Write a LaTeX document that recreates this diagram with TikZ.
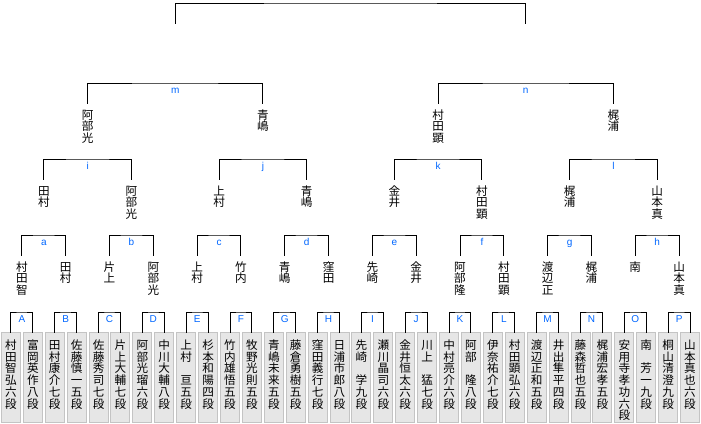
\documentclass[tikz,border=0pt]{standalone}
\usepackage{fontspec}
\setsansfont{Liberation Sans}
\newfontfamily\jpfont{Noto Sans CJK JP}
\usepackage{xcolor}
\definecolor{roundblue}{HTML}{0066FF}
\definecolor{slotgray}{HTML}{E6E6E6}
\definecolor{slotedge}{HTML}{C4C4C4}
\makeatletter
\newcommand\tate[1]{\vtop{\baselineskip=11.7pt\lineskiplimit=-20pt\expandafter\tate@i#1\relax}}
\def\tate@i#1{\ifx#1\relax\else\hbox to 12pt{\hss#1\hss}\expandafter\tate@i\fi}
\makeatother
\def\pitch{21.906}

\begin{document}
\begin{tikzpicture}[x=1pt,y=-1pt,
  bracket/.style={line width=1pt,line cap=rect},
  player/.style={draw=slotedge,fill=slotgray,line width=1pt,anchor=north,inner sep=0pt,
    minimum width=19pt,text height=17pt,text depth=73pt,font=\jpfont\fontsize{11.6}{11.7}\selectfont},
  winner/.style={anchor=north,inner sep=0pt,text height=16pt,font=\jpfont\fontsize{11.6}{11.7}\selectfont},
  matchlab/.style={anchor=north,inner sep=0pt,text height=10.5pt,text depth=0pt,text=roundblue,
    font=\sffamily\fontsize{10}{10}\selectfont}]
\useasboundingbox (0,0) rectangle (701,423);
% 32 players at the bottom, rounds go up to the final
\foreach \nm [count=\k] in {村田智弘六段,富岡英作八段,田村康介七段,佐藤慎一五段,佐藤秀司七段,片上大輔七段,阿部光瑠六段,中川大輔八段,
  上村　亘五段,杉本和陽四段,竹内雄悟五段,牧野光則五段,青嶋未来五段,藤倉勇樹五段,窪田義行七段,日浦市郎八段,
  先崎　学九段,瀬川晶司六段,金井恒太六段,川上　猛七段,中村亮介六段,阿部　隆八段,伊奈祐介七段,村田顕弘六段,
  渡辺正和五段,井出隼平四段,藤森哲也五段,梶浦宏孝五段,安用寺孝功六段,南　芳一九段,桐山清澄九段,山本真也六段}
  \node[player] (pl\k) at ({(\k-0.5)*\pitch},332) {\tate{\nm}};
\foreach \lb [count=\k] in {A,B,C,D,E,F,G,H,I,J,K,L,M,N,O,P}{
  \pgfmathtruncatemacro\ia{2*\k-1}
  \pgfmathtruncatemacro\ib{2*\k}
  \node[matchlab] (r1-\k) at ({(2*\k-1)*\pitch},312) {\lb};
  \draw[bracket] (pl\ia.north) |- (r1-\k.north) -| (pl\ib.north);
}
\foreach \nm [count=\k] in {村田智,田村,片上,阿部光,上村,竹内,青嶋,窪田,先崎,金井,阿部隆,村田顕,渡辺正,梶浦,南,山本真}
  \node[winner] (w1-\k) at ({(2*\k-1)*\pitch},255) {\tate{\nm}};
\foreach \lb [count=\k] in {a,b,c,d,e,f,g,h}{
  \pgfmathtruncatemacro\ia{2*\k-1}
  \pgfmathtruncatemacro\ib{2*\k}
  \node[matchlab] (r2-\k) at ({(4*\k-2)*\pitch},235) {\lb};
  \draw[bracket] (w1-\ia.north) |- (r2-\k.north) -| (w1-\ib.north);
}
\foreach \nm [count=\k] in {田村,阿部光,上村,青嶋,金井,村田顕,梶浦,山本真}
  \node[winner] (w2-\k) at ({(4*\k-2)*\pitch},179) {\tate{\nm}};
\foreach \lb [count=\k] in {i,j,k,l}{
  \pgfmathtruncatemacro\ia{2*\k-1}
  \pgfmathtruncatemacro\ib{2*\k}
  \node[matchlab] (r3-\k) at ({(8*\k-4)*\pitch},159) {\lb};
  \draw[bracket] (w2-\ia.north) |- (r3-\k.north) -| (w2-\ib.north);
}
\foreach \nm [count=\k] in {阿部光,青嶋,村田顕,梶浦}
  \node[winner] (w3-\k) at ({(8*\k-4)*\pitch},103) {\tate{\nm}};
\foreach \lb [count=\k] in {m,n}{
  \pgfmathtruncatemacro\ia{2*\k-1}
  \pgfmathtruncatemacro\ib{2*\k}
  \node[matchlab] (r4-\k) at ({(16*\k-8)*\pitch},83) {\lb};
  \draw[bracket] (w3-\ia.north) |- (r4-\k.north) -| (w3-\ib.north);
  \coordinate (w4-\k) at ({(16*\k-8)*\pitch},23);
}
\coordinate (final) at ({16*\pitch},3);
\draw[bracket] (w4-1) |- (final) -| (w4-2);
\end{tikzpicture}
\end{document}
